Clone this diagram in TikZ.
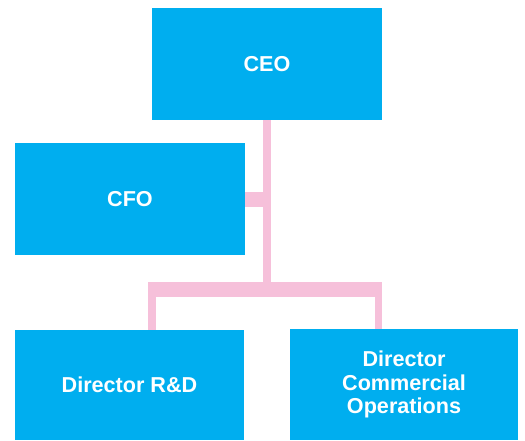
\documentclass[tikz,border=0pt]{standalone}
\usepackage{fontspec}
\setmainfont{Liberation Sans}
\definecolor{boxblue}{HTML}{00AEEF}
\definecolor{linkpink}{HTML}{F6C0DA}
\tikzset{
  orgbox/.style={fill=boxblue, draw=none, text=white, align=center,
    inner sep=0pt, font=\fontsize{21.6}{23.3}\selectfont\bfseries},
  thinlink/.style={draw=linkpink, line width=7.7pt},
  thicklink/.style={draw=linkpink, line width=15pt}
}
\begin{document}
\begin{tikzpicture}[x=1pt,y=-1pt]
\useasboundingbox (0,0) rectangle (525,440);
\node[orgbox, minimum width=230pt, minimum height=112pt] (ceo) at (267,64) {CEO};
\node[orgbox, minimum width=230pt, minimum height=112pt] (cfo) at (130,199) {CFO};
\node[orgbox, minimum width=229pt, minimum height=110pt] (rd) at (129.5,385) {Director R\&D};
\node[orgbox, minimum width=228pt, minimum height=111pt] (com) at (404,384.5) {Director\\Commercial\\Operations};
\coordinate (barL) at (152,289.5);
\coordinate (barR) at (378.5,289.5);
\coordinate (barLend) at (148,289.5);
\coordinate (barRend) at (382,289.5);
\draw[thinlink] (ceo.south) -- (ceo.south |- barL);
\draw[thicklink] (barLend) -- (barRend);
\draw[thicklink] (cfo.east) -- (cfo.east -| ceo.south);
\draw[thinlink] (barL) -- (barL |- rd.north);
\draw[thinlink] (barR) -- (barR |- com.north);
\end{tikzpicture}
\end{document}
